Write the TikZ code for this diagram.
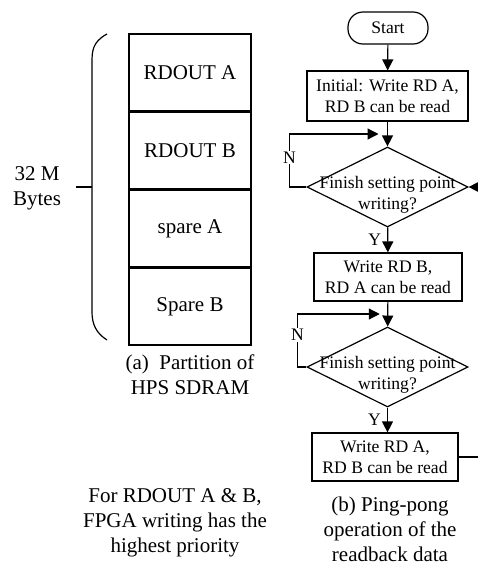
\documentclass[tikz,border=0pt]{standalone}
\usepackage{fontspec}
\setmainfont{Liberation Serif}
\usepackage{tikz}
\usetikzlibrary{shapes,arrows,positioning,calc,arrows.meta}

\newcommand{\bigfont}{\fontsize{21}{25}\selectfont}
\newcommand{\flowfont}{\fontsize{17.6}{21}\selectfont}

\begin{document}
\begin{tikzpicture}[x=1pt, y=-1pt,
    cell/.style={draw, line width=1.6pt, minimum width=122pt, minimum height=76.5pt, inner sep=0pt, font=\bigfont},
    txt/.style={align=center, font=\bigfont, inner sep=0pt},
    terminal/.style={draw, line width=1.2pt, rounded corners=15pt, minimum width=80pt, minimum height=32pt, inner sep=0pt, font=\flowfont},
    process/.style={draw, line width=1.2pt, minimum height=48pt, inner sep=0pt, align=center, font=\flowfont},
    decision/.style={draw, line width=1.2pt, diamond, minimum width=161pt, minimum height=80pt, inner sep=0pt},
    dtext/.style={align=center, font=\flowfont, inner sep=0pt},
    arr/.style={line width=1.2pt, -{Triangle[length=11pt,width=11pt]}},
    lbl/.style={font=\flowfont, inner sep=1pt}
]
    \useasboundingbox (0,0) rectangle (478,566);

    % Memory partition
    \node[cell] (ra) at (190,72.5) {RDOUT A};
    \node[cell, below=0pt of ra] (rb) {RDOUT B};
    \node[cell, below=0pt of rb] (sa) {spare A};
    \node[cell, below=0pt of sa] (sb) {Spare B};

    % Brace and size
    \draw[line width=1.2pt] (107,34) .. controls (92,42) and (92,52) .. (92,63) -- (92,312) .. controls (92,324) and (96,333) .. (107,340);
    \coordinate (tick) at (92,187);
    \draw[line width=1.2pt] (tick) -- ++(-16,0);
    \node[txt] (size) at (37,188) {32 M\\Bytes};

    % Captions
    \node[txt] (capa) at (190,375) {(a)~ Partition of\\HPS SDRAM};
    \node[txt] (note) at (175,523) {For RDOUT A \& B,\\FPGA writing has the\\highest priority};
    \node[txt] (capb) at (390,529) {(b) Ping-pong\\operation of the\\readback data};

    % Flowchart
    \node[terminal] (start) at (388,28) {Start};
    \node[process, minimum width=161pt, minimum height=50pt] (b1) at (387.5,96) {Initial: Write RD A,\\RD B can be read};
    \node[decision] (d1) at (387.5,187) {};
    \node[dtext] at ($(d1.center)+(0,8)$) {Finish setting point\\writing?};
    \node[process, minimum width=148pt] (b2) at (388,277) {Write RD B,\\RD A can be read};
    \node[decision] (d2) at (387.5,367) {};
    \node[dtext] at ($(d2.center)+(0,8)$) {Finish setting point\\writing?};
    \node[process, minimum width=146pt] (b3) at (385,457) {Write RD A,\\RD B can be read};

    % Junctions
    \coordinate (j1) at ($(b1.south)!0.5!(d1.north)$);
    \coordinate (j2) at ($(b2.south)!0.5!(d2.north)$);
    \coordinate (loopin) at (478,187);
    \coordinate (loopout) at (478,457);

    % Connectors
    \draw[arr] (start) -- (b1);
    \draw[arr] (b1) -- (d1);
    \draw[arr] (d1) -- node[lbl, left=5pt] {Y} (b2);
    \draw[arr] (b2) -- (d2);
    \draw[arr] (d2.south) -- node[lbl, left=5pt] {Y} (d2.south |- b3.north);
    \draw[arr] (d1.west) -- ++(-17,0) |- node[lbl, pos=0.28, fill=white] {N} ([xshift=-9pt]j1);
    \draw[arr] (d2.west) -- ++(-9,0) |- node[lbl, pos=0.3, fill=white] {N} ([xshift=-8pt]j2);
    \draw[arr] (loopin) -- (d1.east);
    \draw[line width=1.2pt] (b3.east |- loopout) -- (loopout);
\end{tikzpicture}
\end{document}
